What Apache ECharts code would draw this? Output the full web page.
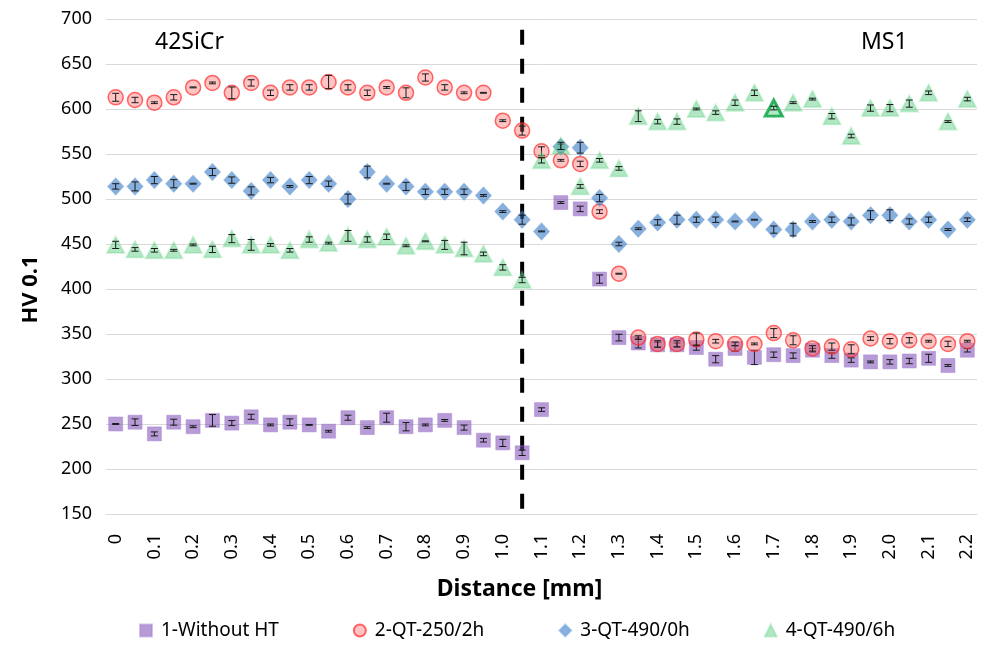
<!DOCTYPE html>
<html>
<head>
<meta charset="utf-8">
<script src="https://cdn.jsdelivr.net/npm/echarts@6/dist/echarts.min.js"></script>
<style>
html,body{margin:0;padding:0;background:#fff;}
#chart{width:984px;height:645px;}
</style>
</head>
<body>
<div id="chart"></div>
<script>
// ---- data ----
const categories = ['0','0.05','0.1','0.15','0.2','0.25','0.3','0.35','0.4','0.45','0.5','0.55','0.6','0.65','0.7','0.75','0.8','0.85','0.9','0.95','1.0','1.05','1.1','1.15','1.2','1.25','1.3','1.35','1.4','1.45','1.5','1.55','1.6','1.65','1.7','1.75','1.8','1.85','1.9','1.95','2.0','2.05','2.1','2.15','2.2'];

const seriesNames = ['1-Without HT','2-QT-250/2h','3-QT-490/0h','4-QT-490/6h'];

const withoutHT = [250,252,239,252,247,254,251,258,249,252,249,242,257,246,257,247,249,254,246,232,229,218,
  266,496,489,411,346,340,338,338,335,322,334,
  324,327,326,332,326,321,319,319,320,323,315,332];
const withoutHTErr = [0.5,3.7,2.2,3.3,1,6.5,2.8,2.8,1,3.7,0.5,1,2.8,1,5,4.6,1,1,2.8,2,4,3,
  2,1,3,4.6,3.7,5.5,3,2,3,4,3,
  8,3,3,2,3,2.5,1,2.5,3,4.5,1,2];

const qt250 = [613,610,607,613,624,629,618,629,618,624,624,630,624,618,624,618,635,624,618,618,587,576,
  553,543,539,486,417,346,339,339,344,342,339,
  339,351,343,334,336,333,345,342,343,342,339,342];
const qt250Err = [4.4,3,1,3,0.5,1,6.5,3.5,3,3,3,7.4,3,3,1,5.5,4,3,1,0.5,1,5,
  5,1,3,2,0.5,2,3.5,3.5,7,2,2,
  1,5,5,3,4,5,2,3,3,1,3,1];

const qt490_0 = [514,514,521,517,517,530,521,509,521,514,521,517,500,530,517,514,508,508,508,504,486,477,
  464,558,557,501,450,467,474,477,477,477,475,
  477,466,466,475,477,475,482,482,475,477,466,477];
const qt490_0Err = [3,5,4,4.5,0.5,4,3.5,4.5,3,1,4,3,5.5,6.5,0.5,4.5,3,3,3,1,1,5,
  0.5,3,6,4,2,1,3,5,3,3,0.5,
  0.5,4,7,1,3,4,5,6,3,3,1,2];

const qt490_6 = [449,444,443,443,449,444,456,449,449,443,455,451,459,455,458,448,453,449,445,439,424,410,
  543,559,514,543,534,592,586,586,600,596,607,
  618,601,607,611,592,570,601,601,606,618,586,611];
const qt490_6Err = [4,2,2,1,1,3.5,4.5,6,1.5,2,3,1,6,3,3,1,0.5,5,7,2,3,3,
  3,4,2,2,2,6,2.5,3,1,2,3,
  3,2,1,1,3,2,3.5,4,4,2,1,2];

const highlightCategory = '1.7';      // darker outlined triangle in series 4
const boundaryCategory = '1.05';      // dashed boundary line
const boundaryRange = [688, 150];
const regionLabels = ['42SiCr', 'MS1'];

// ---- chart ----
const chart = echarts.init(document.getElementById('chart'), null, {renderer: 'canvas'});
const FONT = 'Noto Sans';

function errSeries(vals, errs, z) {
  return {
    type: 'custom',
    silent: true,
    z: z,
    data: vals.map((v, i) => [i, v, errs[i]]),
    encode: {x: 0, y: 1},
    renderItem: function (params, api) {
      const i = api.value(0), v = api.value(1), e = api.value(2);
      const top = api.coord([i, v + e]);
      const bot = api.coord([i, v - e]);
      const x = top[0];
      const cap = 3.5;
      const st = {stroke: '#1a1a1a', lineWidth: 1};
      return {
        type: 'group',
        children: [
          {type: 'line', shape: {x1: x, y1: top[1], x2: x, y2: bot[1]}, style: st},
          {type: 'line', shape: {x1: x - cap, y1: top[1], x2: x + cap, y2: top[1]}, style: st},
          {type: 'line', shape: {x1: x - cap, y1: bot[1], x2: x + cap, y2: bot[1]}, style: st}
        ]
      };
    }
  };
}

const hiIdx = categories.indexOf(highlightCategory);

const option = {
  animation: false,
  backgroundColor: '#ffffff',
  textStyle: {fontFamily: FONT},
  grid: {left: 106, right: 7, top: 19, bottom: 131},
  legend: {
    bottom: 0,
    left: 134,
    itemGap: 74,
    itemWidth: 12,
    itemHeight: 12,
    textStyle: {fontSize: 19, color: '#000', fontFamily: FONT, padding: [0, 0, 0, 4]},
    data: seriesNames
  },
  xAxis: {
    type: 'category',
    data: categories,
    boundaryGap: true,
    name: 'Distance [mm]',
    nameLocation: 'middle',
    nameGap: 64,
    nameTextStyle: {fontSize: 23, fontWeight: 'bold', color: '#000', fontFamily: FONT, padding: [0, 44, 0, 0]},
    axisTick: {show: false},
    axisLine: {show: true, lineStyle: {color: '#d9d9d9', width: 1}},
    axisLabel: {
      rotate: 90,
      interval: 1,
      margin: 20,
      fontSize: 18,
      color: '#000',
      fontFamily: FONT
    },
    splitLine: {show: false}
  },
  yAxis: {
    type: 'value',
    min: 150,
    max: 700,
    interval: 50,
    name: 'HV 0.1',
    nameLocation: 'middle',
    nameGap: 64,
    nameTextStyle: {fontSize: 22, fontWeight: 'bold', color: '#000', fontFamily: FONT, padding: [0, 46, 0, 0]},
    axisLine: {show: false},
    axisTick: {show: false},
    axisLabel: {fontSize: 18, color: '#000', margin: 14, fontFamily: FONT},
    splitLine: {lineStyle: {color: '#d9d9d9', width: 1}}
  },
  graphic: [
    {type: 'text', left: 155, top: 31, style: {text: regionLabels[0], fontSize: 23, fill: '#000', fontFamily: FONT}},
    {type: 'text', left: 861, top: 31, style: {text: regionLabels[1], fontSize: 23, fill: '#000', fontFamily: FONT}}
  ],
  series: [
    {
      type: 'line',
      silent: true,
      z: 1,
      symbol: 'none',
      clip: false,
      data: [[boundaryCategory, boundaryRange[0]], [boundaryCategory, boundaryRange[1]]],
      lineStyle: {color: '#000', width: 4, type: [15, 14]}
    },
    {
      name: seriesNames[0], type: 'scatter', z: 2,
      symbol: 'rect', symbolSize: 14,
      data: withoutHT,
      itemStyle: {color: 'rgba(120,70,180,0.68)', borderColor: 'rgba(170,130,215,0.6)', borderWidth: 1}
    },
    errSeries(withoutHT, withoutHTErr, 3),
    {
      name: seriesNames[1], type: 'scatter', z: 4,
      symbol: 'circle', symbolSize: 15,
      data: qt250,
      itemStyle: {color: 'rgba(255,100,100,0.48)', borderColor: 'rgba(255,40,40,0.85)', borderWidth: 1.5}
    },
    errSeries(qt250, qt250Err, 5),
    {
      name: seriesNames[2], type: 'scatter', z: 6,
      symbol: 'diamond', symbolSize: [16, 17],
      data: qt490_0,
      itemStyle: {color: 'rgba(60,125,200,0.76)', borderColor: 'rgba(110,160,215,0.6)', borderWidth: 1}
    },
    errSeries(qt490_0, qt490_0Err, 7),
    {
      name: seriesNames[3], type: 'scatter', z: 8,
      symbol: 'triangle', symbolSize: [17, 16],
      data: qt490_6.map((v, i) => i === hiIdx
        ? {value: v, itemStyle: {color: 'rgba(120,215,150,0.7)', borderColor: '#00a03c', borderWidth: 3}}
        : v),
      itemStyle: {color: 'rgba(80,200,120,0.55)', borderColor: 'rgba(110,215,145,0.45)', borderWidth: 2}
    },
    errSeries(qt490_6, qt490_6Err, 9)
  ]
};
chart.setOption(option);
</script>
</body>
</html>
